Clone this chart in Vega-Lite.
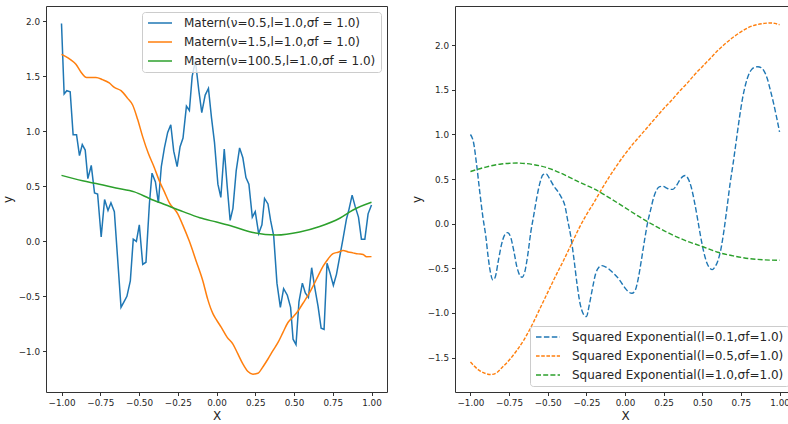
{
  "$schema": "https://vega.github.io/schema/vega-lite/v6.json",
  "padding": {"left": 0, "top": 5, "right": 0, "bottom": 0},
  "background": "white",
  "config": {
    "font": "DejaVu Sans",
    "view": {"stroke": "#333", "strokeWidth": 1},
    "axis": {"domain": false, "grid": false, "labelFont": "DejaVu Sans", "labelFontSize": 8.8, "labelColor": "#262626", "tickColor": "#333", "tickSize": 3.5, "labelPadding": 3, "titleFont": "DejaVu Sans", "titleFontSize": 12, "titleFontWeight": "normal", "titleColor": "#262626"},
    "axisX": {"titlePadding": 3},
    "axisY": {"titlePadding": 4},
    "legend": {"symbolType": "stroke", "symbolSize": 576, "symbolStrokeWidth": 1.5, "labelFont": "DejaVu Sans", "labelFontSize": 12, "labelColor": "#262626", "strokeColor": "#cccccc", "fillColor": "rgba(255,255,255,0.8)", "cornerRadius": 3, "padding": 5, "offset": 6, "clipHeight": 12, "rowPadding": 7, "labelOffset": 11, "labelLimit": 400}
  },
  "datasets": {
    "matern": [
      {"s": "m1", "x": -1.000, "y": 1.98}, {"s": "m1", "x": -0.983, "y": 1.34}, {"s": "m1", "x": -0.966, "y": 1.37}, {"s": "m1", "x": -0.944, "y": 1.36},
      {"s": "m1", "x": -0.925, "y": 0.97}, {"s": "m1", "x": -0.903, "y": 0.97}, {"s": "m1", "x": -0.884, "y": 0.78}, {"s": "m1", "x": -0.866, "y": 0.88},
      {"s": "m1", "x": -0.847, "y": 0.83}, {"s": "m1", "x": -0.830, "y": 0.57}, {"s": "m1", "x": -0.808, "y": 0.69}, {"s": "m1", "x": -0.787, "y": 0.44},
      {"s": "m1", "x": -0.767, "y": 0.43}, {"s": "m1", "x": -0.744, "y": 0.04}, {"s": "m1", "x": -0.722, "y": 0.38}, {"s": "m1", "x": -0.700, "y": 0.28},
      {"s": "m1", "x": -0.681, "y": 0.35}, {"s": "m1", "x": -0.659, "y": 0.27}, {"s": "m1", "x": -0.616, "y": -0.60}, {"s": "m1", "x": -0.597, "y": -0.55},
      {"s": "m1", "x": -0.578, "y": -0.50}, {"s": "m1", "x": -0.556, "y": -0.36}, {"s": "m1", "x": -0.537, "y": 0.02}, {"s": "m1", "x": -0.517, "y": 0.00},
      {"s": "m1", "x": -0.498, "y": 0.15}, {"s": "m1", "x": -0.476, "y": -0.21}, {"s": "m1", "x": -0.455, "y": -0.19}, {"s": "m1", "x": -0.433, "y": 0.34},
      {"s": "m1", "x": -0.416, "y": 0.62}, {"s": "m1", "x": -0.394, "y": 0.54}, {"s": "m1", "x": -0.375, "y": 0.35}, {"s": "m1", "x": -0.356, "y": 0.68},
      {"s": "m1", "x": -0.336, "y": 0.85}, {"s": "m1", "x": -0.315, "y": 0.99}, {"s": "m1", "x": -0.295, "y": 1.06}, {"s": "m1", "x": -0.276, "y": 0.82},
      {"s": "m1", "x": -0.254, "y": 0.68}, {"s": "m1", "x": -0.235, "y": 0.86}, {"s": "m1", "x": -0.216, "y": 0.94}, {"s": "m1", "x": -0.194, "y": 1.23},
      {"s": "m1", "x": -0.175, "y": 1.19}, {"s": "m1", "x": -0.157, "y": 1.50}, {"s": "m1", "x": -0.136, "y": 1.64}, {"s": "m1", "x": -0.114, "y": 1.37},
      {"s": "m1", "x": -0.095, "y": 1.17}, {"s": "m1", "x": -0.073, "y": 1.33}, {"s": "m1", "x": -0.052, "y": 1.39}, {"s": "m1", "x": -0.032, "y": 1.12},
      {"s": "m1", "x": -0.013, "y": 0.90}, {"s": "m1", "x": 0.009, "y": 0.52}, {"s": "m1", "x": 0.028, "y": 0.40}, {"s": "m1", "x": 0.050, "y": 0.84},
      {"s": "m1", "x": 0.069, "y": 0.50}, {"s": "m1", "x": 0.088, "y": 0.19}, {"s": "m1", "x": 0.106, "y": 0.30}, {"s": "m1", "x": 0.127, "y": 0.64},
      {"s": "m1", "x": 0.149, "y": 0.85}, {"s": "m1", "x": 0.170, "y": 0.76}, {"s": "m1", "x": 0.190, "y": 0.58}, {"s": "m1", "x": 0.209, "y": 0.52},
      {"s": "m1", "x": 0.231, "y": 0.22}, {"s": "m1", "x": 0.250, "y": 0.27}, {"s": "m1", "x": 0.272, "y": 0.07}, {"s": "m1", "x": 0.293, "y": 0.15},
      {"s": "m1", "x": 0.310, "y": 0.39}, {"s": "m1", "x": 0.332, "y": 0.34}, {"s": "m1", "x": 0.349, "y": 0.19}, {"s": "m1", "x": 0.369, "y": 0.05},
      {"s": "m1", "x": 0.390, "y": -0.38}, {"s": "m1", "x": 0.412, "y": -0.60}, {"s": "m1", "x": 0.433, "y": -0.43}, {"s": "m1", "x": 0.457, "y": -0.49},
      {"s": "m1", "x": 0.478, "y": -0.60}, {"s": "m1", "x": 0.494, "y": -0.89}, {"s": "m1", "x": 0.513, "y": -0.94}, {"s": "m1", "x": 0.532, "y": -0.55},
      {"s": "m1", "x": 0.554, "y": -0.38}, {"s": "m1", "x": 0.573, "y": -0.47}, {"s": "m1", "x": 0.593, "y": -0.51}, {"s": "m1", "x": 0.614, "y": -0.24},
      {"s": "m1", "x": 0.634, "y": -0.42}, {"s": "m1", "x": 0.655, "y": -0.59}, {"s": "m1", "x": 0.675, "y": -0.79}, {"s": "m1", "x": 0.694, "y": -0.80},
      {"s": "m1", "x": 0.713, "y": -0.20}, {"s": "m1", "x": 0.733, "y": -0.29}, {"s": "m1", "x": 0.754, "y": -0.40}, {"s": "m1", "x": 0.774, "y": -0.30},
      {"s": "m1", "x": 0.795, "y": -0.14}, {"s": "m1", "x": 0.817, "y": 0.03}, {"s": "m1", "x": 0.838, "y": 0.20}, {"s": "m1", "x": 0.853, "y": 0.28},
      {"s": "m1", "x": 0.875, "y": 0.42}, {"s": "m1", "x": 0.894, "y": 0.32}, {"s": "m1", "x": 0.916, "y": 0.22}, {"s": "m1", "x": 0.935, "y": 0.02},
      {"s": "m1", "x": 0.957, "y": 0.02}, {"s": "m1", "x": 0.978, "y": 0.25}, {"s": "m1", "x": 1.000, "y": 0.33},
      {"s": "m2", "x": -1.000, "y": 1.70}, {"s": "m2", "x": -0.972, "y": 1.68}, {"s": "m2", "x": -0.940, "y": 1.65}, {"s": "m2", "x": -0.907, "y": 1.61},
      {"s": "m2", "x": -0.875, "y": 1.54}, {"s": "m2", "x": -0.838, "y": 1.49}, {"s": "m2", "x": -0.778, "y": 1.49}, {"s": "m2", "x": -0.735, "y": 1.47},
      {"s": "m2", "x": -0.692, "y": 1.44}, {"s": "m2", "x": -0.659, "y": 1.40}, {"s": "m2", "x": -0.616, "y": 1.37}, {"s": "m2", "x": -0.573, "y": 1.30},
      {"s": "m2", "x": -0.541, "y": 1.24}, {"s": "m2", "x": -0.509, "y": 1.11}, {"s": "m2", "x": -0.476, "y": 0.95}, {"s": "m2", "x": -0.440, "y": 0.80},
      {"s": "m2", "x": -0.401, "y": 0.67}, {"s": "m2", "x": -0.369, "y": 0.55}, {"s": "m2", "x": -0.336, "y": 0.45}, {"s": "m2", "x": -0.304, "y": 0.35},
      {"s": "m2", "x": -0.250, "y": 0.25}, {"s": "m2", "x": -0.218, "y": 0.15}, {"s": "m2", "x": -0.175, "y": 0.0}, {"s": "m2", "x": -0.131, "y": -0.18},
      {"s": "m2", "x": -0.088, "y": -0.36}, {"s": "m2", "x": -0.056, "y": -0.53}, {"s": "m2", "x": -0.024, "y": -0.655}, {"s": "m2", "x": -0.002, "y": -0.71},
      {"s": "m2", "x": 0.030, "y": -0.78}, {"s": "m2", "x": 0.069, "y": -0.873}, {"s": "m2", "x": 0.106, "y": -0.934}, {"s": "m2", "x": 0.138, "y": -1.024},
      {"s": "m2", "x": 0.170, "y": -1.114}, {"s": "m2", "x": 0.203, "y": -1.184}, {"s": "m2", "x": 0.235, "y": -1.208}, {"s": "m2", "x": 0.267, "y": -1.20},
      {"s": "m2", "x": 0.300, "y": -1.14}, {"s": "m2", "x": 0.332, "y": -1.07}, {"s": "m2", "x": 0.364, "y": -0.994}, {"s": "m2", "x": 0.397, "y": -0.919},
      {"s": "m2", "x": 0.429, "y": -0.828}, {"s": "m2", "x": 0.461, "y": -0.738}, {"s": "m2", "x": 0.494, "y": -0.687}, {"s": "m2", "x": 0.526, "y": -0.633},
      {"s": "m2", "x": 0.558, "y": -0.563}, {"s": "m2", "x": 0.591, "y": -0.49}, {"s": "m2", "x": 0.623, "y": -0.407}, {"s": "m2", "x": 0.655, "y": -0.316},
      {"s": "m2", "x": 0.688, "y": -0.226}, {"s": "m2", "x": 0.720, "y": -0.16}, {"s": "m2", "x": 0.752, "y": -0.111}, {"s": "m2", "x": 0.784, "y": -0.099},
      {"s": "m2", "x": 0.817, "y": -0.084}, {"s": "m2", "x": 0.849, "y": -0.096}, {"s": "m2", "x": 0.881, "y": -0.105}, {"s": "m2", "x": 0.914, "y": -0.114},
      {"s": "m2", "x": 0.946, "y": -0.12}, {"s": "m2", "x": 0.968, "y": -0.14}, {"s": "m2", "x": 1.000, "y": -0.139},
      {"s": "m3", "x": -1.000, "y": 0.60}, {"s": "m3", "x": -0.864, "y": 0.55}, {"s": "m3", "x": -0.756, "y": 0.52}, {"s": "m3", "x": -0.649, "y": 0.485},
      {"s": "m3", "x": -0.530, "y": 0.45}, {"s": "m3", "x": -0.433, "y": 0.39}, {"s": "m3", "x": -0.325, "y": 0.33}, {"s": "m3", "x": -0.216, "y": 0.27},
      {"s": "m3", "x": -0.108, "y": 0.215}, {"s": "m3", "x": 0.000, "y": 0.175}, {"s": "m3", "x": 0.106, "y": 0.135}, {"s": "m3", "x": 0.235, "y": 0.08},
      {"s": "m3", "x": 0.386, "y": 0.057}, {"s": "m3", "x": 0.537, "y": 0.085}, {"s": "m3", "x": 0.666, "y": 0.135}, {"s": "m3", "x": 0.795, "y": 0.21},
      {"s": "m3", "x": 0.881, "y": 0.285}, {"s": "m3", "x": 1.000, "y": 0.355}
    ],
    "se": [
      {"s": "s1", "x": -1.0, "y": 1.0}, {"s": "s1", "x": -0.98, "y": 0.91}, {"s": "s1", "x": -0.96, "y": 0.66}, {"s": "s1", "x": -0.94, "y": 0.36},
      {"s": "s1", "x": -0.92, "y": 0.08}, {"s": "s1", "x": -0.90, "y": -0.15}, {"s": "s1", "x": -0.885, "y": -0.38}, {"s": "s1", "x": -0.87, "y": -0.55},
      {"s": "s1", "x": -0.855, "y": -0.63}, {"s": "s1", "x": -0.84, "y": -0.60}, {"s": "s1", "x": -0.82, "y": -0.42}, {"s": "s1", "x": -0.80, "y": -0.24},
      {"s": "s1", "x": -0.78, "y": -0.13}, {"s": "s1", "x": -0.76, "y": -0.10}, {"s": "s1", "x": -0.74, "y": -0.15}, {"s": "s1", "x": -0.72, "y": -0.30},
      {"s": "s1", "x": -0.70, "y": -0.48}, {"s": "s1", "x": -0.68, "y": -0.58}, {"s": "s1", "x": -0.665, "y": -0.60}, {"s": "s1", "x": -0.65, "y": -0.55},
      {"s": "s1", "x": -0.63, "y": -0.36}, {"s": "s1", "x": -0.61, "y": -0.10}, {"s": "s1", "x": -0.59, "y": 0.10}, {"s": "s1", "x": -0.57, "y": 0.30},
      {"s": "s1", "x": -0.55, "y": 0.46}, {"s": "s1", "x": -0.53, "y": 0.55}, {"s": "s1", "x": -0.51, "y": 0.56}, {"s": "s1", "x": -0.49, "y": 0.51},
      {"s": "s1", "x": -0.46, "y": 0.42}, {"s": "s1", "x": -0.43, "y": 0.35}, {"s": "s1", "x": -0.41, "y": 0.29}, {"s": "s1", "x": -0.39, "y": 0.21},
      {"s": "s1", "x": -0.37, "y": 0.03}, {"s": "s1", "x": -0.35, "y": -0.15}, {"s": "s1", "x": -0.33, "y": -0.40}, {"s": "s1", "x": -0.31, "y": -0.68},
      {"s": "s1", "x": -0.29, "y": -0.90}, {"s": "s1", "x": -0.27, "y": -1.01}, {"s": "s1", "x": -0.25, "y": -1.04}, {"s": "s1", "x": -0.23, "y": -0.90},
      {"s": "s1", "x": -0.21, "y": -0.72}, {"s": "s1", "x": -0.19, "y": -0.56}, {"s": "s1", "x": -0.17, "y": -0.49}, {"s": "s1", "x": -0.15, "y": -0.47},
      {"s": "s1", "x": -0.13, "y": -0.48}, {"s": "s1", "x": -0.11, "y": -0.50}, {"s": "s1", "x": -0.09, "y": -0.53}, {"s": "s1", "x": -0.066, "y": -0.57},
      {"s": "s1", "x": -0.04, "y": -0.62}, {"s": "s1", "x": -0.02, "y": -0.67}, {"s": "s1", "x": 0.0, "y": -0.72}, {"s": "s1", "x": 0.02, "y": -0.76},
      {"s": "s1", "x": 0.045, "y": -0.78}, {"s": "s1", "x": 0.065, "y": -0.75}, {"s": "s1", "x": 0.085, "y": -0.62}, {"s": "s1", "x": 0.105, "y": -0.42},
      {"s": "s1", "x": 0.125, "y": -0.20}, {"s": "s1", "x": 0.145, "y": 0.0}, {"s": "s1", "x": 0.165, "y": 0.15}, {"s": "s1", "x": 0.185, "y": 0.29},
      {"s": "s1", "x": 0.205, "y": 0.38}, {"s": "s1", "x": 0.225, "y": 0.415}, {"s": "s1", "x": 0.245, "y": 0.42}, {"s": "s1", "x": 0.27, "y": 0.40},
      {"s": "s1", "x": 0.29, "y": 0.385}, {"s": "s1", "x": 0.31, "y": 0.385}, {"s": "s1", "x": 0.33, "y": 0.42}, {"s": "s1", "x": 0.355, "y": 0.49},
      {"s": "s1", "x": 0.375, "y": 0.53}, {"s": "s1", "x": 0.39, "y": 0.54}, {"s": "s1", "x": 0.41, "y": 0.50}, {"s": "s1", "x": 0.43, "y": 0.40},
      {"s": "s1", "x": 0.45, "y": 0.24}, {"s": "s1", "x": 0.47, "y": 0.05}, {"s": "s1", "x": 0.49, "y": -0.15}, {"s": "s1", "x": 0.51, "y": -0.32},
      {"s": "s1", "x": 0.53, "y": -0.44}, {"s": "s1", "x": 0.55, "y": -0.50}, {"s": "s1", "x": 0.565, "y": -0.515}, {"s": "s1", "x": 0.58, "y": -0.49},
      {"s": "s1", "x": 0.60, "y": -0.42}, {"s": "s1", "x": 0.62, "y": -0.29}, {"s": "s1", "x": 0.64, "y": -0.08}, {"s": "s1", "x": 0.66, "y": 0.18},
      {"s": "s1", "x": 0.68, "y": 0.45}, {"s": "s1", "x": 0.70, "y": 0.68}, {"s": "s1", "x": 0.72, "y": 0.93}, {"s": "s1", "x": 0.74, "y": 1.18},
      {"s": "s1", "x": 0.76, "y": 1.40}, {"s": "s1", "x": 0.78, "y": 1.56}, {"s": "s1", "x": 0.80, "y": 1.67}, {"s": "s1", "x": 0.82, "y": 1.73},
      {"s": "s1", "x": 0.84, "y": 1.755}, {"s": "s1", "x": 0.86, "y": 1.76}, {"s": "s1", "x": 0.88, "y": 1.75}, {"s": "s1", "x": 0.90, "y": 1.71},
      {"s": "s1", "x": 0.92, "y": 1.63}, {"s": "s1", "x": 0.94, "y": 1.50}, {"s": "s1", "x": 0.96, "y": 1.36}, {"s": "s1", "x": 0.98, "y": 1.20},
      {"s": "s1", "x": 1.0, "y": 1.03},
      {"s": "s2", "x": -1.0, "y": -1.55}, {"s": "s2", "x": -0.95, "y": -1.635}, {"s": "s2", "x": -0.9, "y": -1.68}, {"s": "s2", "x": -0.87, "y": -1.69},
      {"s": "s2", "x": -0.83, "y": -1.67}, {"s": "s2", "x": -0.8, "y": -1.62}, {"s": "s2", "x": -0.75, "y": -1.53}, {"s": "s2", "x": -0.7, "y": -1.42},
      {"s": "s2", "x": -0.65, "y": -1.29}, {"s": "s2", "x": -0.6, "y": -1.13}, {"s": "s2", "x": -0.55, "y": -0.95}, {"s": "s2", "x": -0.5, "y": -0.77},
      {"s": "s2", "x": -0.45, "y": -0.59}, {"s": "s2", "x": -0.4, "y": -0.42}, {"s": "s2", "x": -0.35, "y": -0.24}, {"s": "s2", "x": -0.3, "y": -0.06},
      {"s": "s2", "x": -0.25, "y": 0.10}, {"s": "s2", "x": -0.2, "y": 0.24}, {"s": "s2", "x": -0.15, "y": 0.39}, {"s": "s2", "x": -0.1, "y": 0.53},
      {"s": "s2", "x": -0.05, "y": 0.66}, {"s": "s2", "x": 0.0, "y": 0.78}, {"s": "s2", "x": 0.05, "y": 0.89}, {"s": "s2", "x": 0.1, "y": 0.99},
      {"s": "s2", "x": 0.15, "y": 1.09}, {"s": "s2", "x": 0.2, "y": 1.19}, {"s": "s2", "x": 0.25, "y": 1.29}, {"s": "s2", "x": 0.3, "y": 1.38},
      {"s": "s2", "x": 0.35, "y": 1.48}, {"s": "s2", "x": 0.4, "y": 1.57}, {"s": "s2", "x": 0.45, "y": 1.67}, {"s": "s2", "x": 0.5, "y": 1.76},
      {"s": "s2", "x": 0.55, "y": 1.85}, {"s": "s2", "x": 0.6, "y": 1.94}, {"s": "s2", "x": 0.65, "y": 2.02}, {"s": "s2", "x": 0.7, "y": 2.09},
      {"s": "s2", "x": 0.75, "y": 2.15}, {"s": "s2", "x": 0.8, "y": 2.20}, {"s": "s2", "x": 0.85, "y": 2.23}, {"s": "s2", "x": 0.9, "y": 2.245},
      {"s": "s2", "x": 0.94, "y": 2.25}, {"s": "s2", "x": 0.97, "y": 2.245}, {"s": "s2", "x": 1.0, "y": 2.23},
      {"s": "s3", "x": -1.0, "y": 0.585}, {"s": "s3", "x": -0.9, "y": 0.635}, {"s": "s3", "x": -0.8, "y": 0.67}, {"s": "s3", "x": -0.7, "y": 0.68},
      {"s": "s3", "x": -0.6, "y": 0.665}, {"s": "s3", "x": -0.5, "y": 0.625}, {"s": "s3", "x": -0.4, "y": 0.555}, {"s": "s3", "x": -0.3, "y": 0.47},
      {"s": "s3", "x": -0.2, "y": 0.39}, {"s": "s3", "x": -0.1, "y": 0.29}, {"s": "s3", "x": 0.0, "y": 0.18}, {"s": "s3", "x": 0.1, "y": 0.07},
      {"s": "s3", "x": 0.2, "y": -0.03}, {"s": "s3", "x": 0.3, "y": -0.12}, {"s": "s3", "x": 0.4, "y": -0.195}, {"s": "s3", "x": 0.5, "y": -0.255},
      {"s": "s3", "x": 0.6, "y": -0.32}, {"s": "s3", "x": 0.7, "y": -0.36}, {"s": "s3", "x": 0.8, "y": -0.39}, {"s": "s3", "x": 0.9, "y": -0.405},
      {"s": "s3", "x": 1.0, "y": -0.41}
    ]
  },
  "bounds": "flush",
  "spacing": 68,
  "resolve": {"scale": {"color": "independent", "strokeDash": "independent"}, "legend": {"color": "independent", "strokeDash": "independent"}},
  "hconcat": [
    {
      "width": 341,
      "height": 386,
      "data": {"name": "matern"},
      "encoding": {
        "x": {"field": "x", "type": "quantitative", "scale": {"domain": [-1.1, 1.1], "nice": false, "zero": false}, "axis": {"values": [-1, -0.75, -0.5, -0.25, 0, 0.25, 0.5, 0.75, 1], "format": ".2f", "title": "X"}},
        "y": {"field": "y", "type": "quantitative", "scale": {"domain": [-1.37, 2.14], "nice": false, "zero": false}, "axis": {"values": [-1, -0.5, 0, 0.5, 1, 1.5, 2], "format": ".1f", "title": "y"}},
        "color": {"field": "s", "type": "nominal", "scale": {"domain": ["m1", "m2", "m3"], "range": ["#1f77b4", "#ff7f0e", "#2ca02c"]}, "legend": {"title": null, "orient": "top-right", "labelExpr": "datum.label == 'm1' ? 'Matern(ν=0.5,l=1.0,σf = 1.0)' : datum.label == 'm2' ? 'Matern(ν=1.5,l=1.0,σf = 1.0)' : 'Matern(ν=100.5,l=1.0,σf = 1.0)'"}}
      },
      "layer": [
        {"transform": [{"filter": "datum.s == 'm1'"}], "mark": {"type": "line", "strokeWidth": 1.5, "clip": true}},
        {"transform": [{"filter": "datum.s != 'm1'"}], "mark": {"type": "line", "strokeWidth": 1.5, "interpolate": "monotone", "clip": true}}
      ]
    },
    {
      "width": 340,
      "height": 386,
      "data": {"name": "se"},
      "mark": {"type": "line", "strokeWidth": 1.4, "interpolate": "monotone", "clip": true},
      "encoding": {
        "x": {"field": "x", "type": "quantitative", "scale": {"domain": [-1.1, 1.1], "nice": false, "zero": false}, "axis": {"values": [-1, -0.75, -0.5, -0.25, 0, 0.25, 0.5, 0.75, 1], "format": ".2f", "title": "X"}},
        "y": {"field": "y", "type": "quantitative", "scale": {"domain": [-1.886, 2.44], "nice": false, "zero": false}, "axis": {"values": [-1.5, -1, -0.5, 0, 0.5, 1, 1.5, 2], "format": ".1f", "title": "y"}},
        "color": {"field": "s", "type": "nominal", "scale": {"domain": ["s1", "s2", "s3"], "range": ["#1f77b4", "#ff7f0e", "#2ca02c"]}, "legend": {"title": null, "orient": "bottom-right", "labelExpr": "datum.label == 's1' ? 'Squared Exponential(l=0.1,σf=1.0)' : datum.label == 's2' ? 'Squared Exponential(l=0.5,σf=1.0)' : 'Squared Exponential(l=1.0,σf=1.0)'"}},
        "strokeDash": {"field": "s", "type": "nominal", "scale": {"domain": ["s1", "s2", "s3"], "range": [[5.5, 2.4], [3.6, 1.6], [5, 2.2]]}, "legend": {"title": null, "orient": "bottom-right", "labelExpr": "datum.label == 's1' ? 'Squared Exponential(l=0.1,σf=1.0)' : datum.label == 's2' ? 'Squared Exponential(l=0.5,σf=1.0)' : 'Squared Exponential(l=1.0,σf=1.0)'"}}
      }
    }
  ]
}
